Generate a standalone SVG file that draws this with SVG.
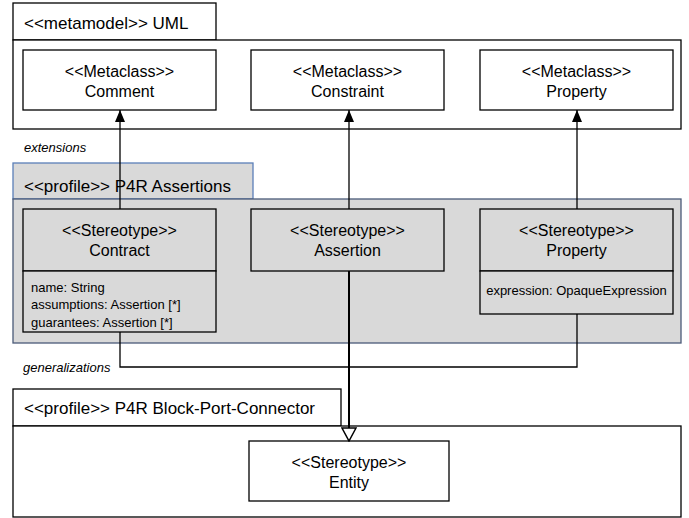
<svg xmlns="http://www.w3.org/2000/svg" width="689" height="518" viewBox="0 0 689 518">
<defs>
<style>
text{font-family:"Liberation Sans",Arial,sans-serif;fill:#000}
.tab{font-size:17px}
.lbl{font-size:16px;text-anchor:middle}
.att{font-size:13px}
.it{font-style:italic;font-size:13px}
.box{fill:#fff;stroke:#000;stroke-width:1.3}
.gbox{fill:#d9d9d9;stroke:#000;stroke-width:1.3}
.con{fill:none;stroke:#000;stroke-width:1.3}
</style>
<marker id="ext" viewBox="0 0 12 10" refX="12" refY="5" markerWidth="12" markerHeight="10" markerUnits="userSpaceOnUse" orient="auto">
<path d="M0,0 L12,5 L0,10 z" fill="#000"/>
</marker>
<marker id="gen" viewBox="0 0 15 16" refX="14" refY="8" markerWidth="15" markerHeight="16" markerUnits="userSpaceOnUse" orient="auto">
<path d="M1,1 L14,8 L1,15 z" fill="#fff" stroke="#000" stroke-width="1.5"/>
</marker>
</defs>
<rect width="689" height="518" fill="#fff"/>

<g id="pkg-uml">
<rect class="box" x="13" y="3" width="203" height="37"/>
<rect class="box" x="13" y="40" width="668" height="89"/>
<text class="tab" x="24" y="29">&lt;&lt;metamodel&gt;&gt; UML</text>
</g>
<g id="mc-comment">
<rect class="box" x="23" y="50" width="193" height="60"/>
<text class="lbl" x="119.5" y="76.5">&lt;&lt;Metaclass&gt;&gt;</text>
<text class="lbl" x="119.5" y="96.5">Comment</text>
</g>
<g id="mc-constraint">
<rect class="box" x="251" y="50" width="193" height="60"/>
<text class="lbl" x="347.5" y="76.5">&lt;&lt;Metaclass&gt;&gt;</text>
<text class="lbl" x="347.5" y="96.5">Constraint</text>
</g>
<g id="mc-property">
<rect class="box" x="480" y="50" width="193" height="60"/>
<text class="lbl" x="576.5" y="76.5">&lt;&lt;Metaclass&gt;&gt;</text>
<text class="lbl" x="576.5" y="96.5">Property</text>
</g>

<g id="pkg-assertions">
<rect x="13" y="163" width="240" height="36" fill="#d9d9d9" stroke="#5b7fb8" stroke-width="1.3"/>
<rect x="13" y="199" width="668" height="144" fill="#d9d9d9" stroke="#4a5a78" stroke-width="1.3"/>
<text class="tab" x="24" y="192">&lt;&lt;profile&gt;&gt; P4R Assertions</text>
</g>
<g id="st-contract">
<rect class="gbox" x="23" y="209" width="193" height="62"/>
<rect class="gbox" x="23" y="271" width="193" height="61"/>
<text class="lbl" x="119.5" y="235.5">&lt;&lt;Stereotype&gt;&gt;</text>
<text class="lbl" x="119.5" y="255.5">Contract</text>
<text class="att" x="31" y="291.5">name: String</text>
<text class="att" x="31" y="308.5">assumptions: Assertion [*]</text>
<text class="att" x="31" y="326.5">guarantees: Assertion [*]</text>
</g>
<g id="st-assertion">
<rect class="gbox" x="251" y="209" width="193" height="62"/>
<text class="lbl" x="347.5" y="235.5">&lt;&lt;Stereotype&gt;&gt;</text>
<text class="lbl" x="347.5" y="255.5">Assertion</text>
</g>
<g id="st-property">
<rect class="gbox" x="480" y="209" width="193" height="62"/>
<rect class="gbox" x="480" y="271" width="193" height="43"/>
<text class="lbl" x="576.5" y="235.5">&lt;&lt;Stereotype&gt;&gt;</text>
<text class="lbl" x="576.5" y="255.5">Property</text>
<text class="att" x="576.5" y="294.5" text-anchor="middle">expression: OpaqueExpression</text>
</g>

<g id="pkg-bpc">
<rect class="box" x="13" y="389" width="328" height="37"/>
<rect class="box" x="13" y="426" width="668" height="91"/>
<text class="tab" x="24" y="414">&lt;&lt;profile&gt;&gt; P4R Block-Port-Connector</text>
</g>
<g id="st-entity">
<rect class="box" x="249" y="441" width="200" height="60"/>
<text class="lbl" x="349" y="467.5">&lt;&lt;Stereotype&gt;&gt;</text>
<text class="lbl" x="349" y="487.5">Entity</text>
</g>

<text class="it" x="24" y="151.5">extensions</text>
<text class="it" x="23" y="371.5">generalizations</text>

<g id="connectors">
<line class="con" x1="120" y1="209" x2="120" y2="110" marker-end="url(#ext)"/>
<line class="con" x1="349" y1="209" x2="349" y2="110" marker-end="url(#ext)"/>
<line class="con" x1="577" y1="209" x2="577" y2="110" marker-end="url(#ext)"/>
<path class="con" d="M120,332 V367 H577 V314"/>
<line x1="349" y1="271" x2="349" y2="441" stroke="#000" stroke-width="2" marker-end="url(#gen)"/>
</g>
</svg>
